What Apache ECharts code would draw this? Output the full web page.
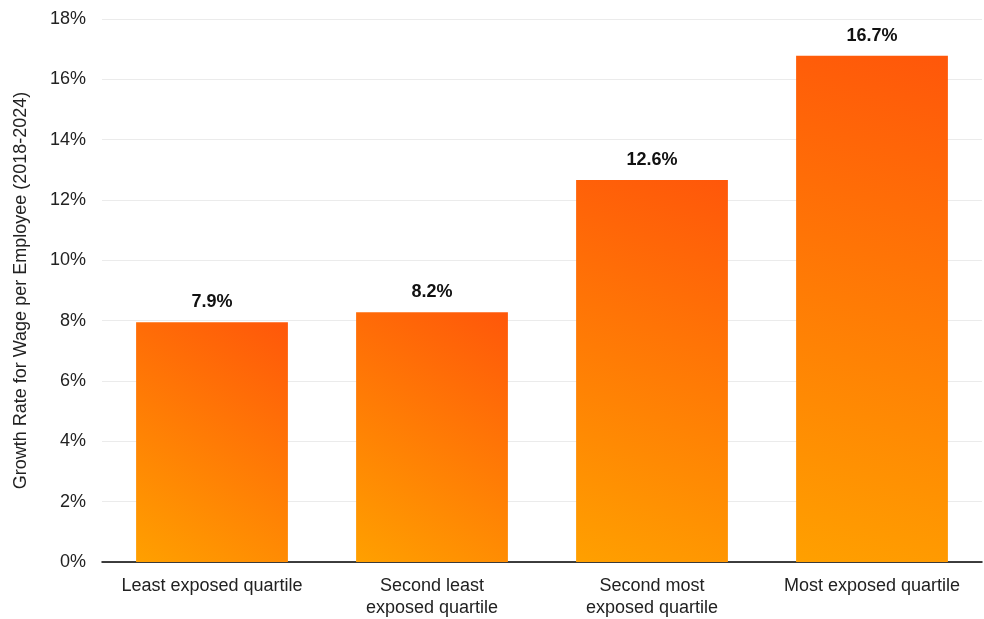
<!DOCTYPE html>
<html><head><meta charset="utf-8">
<script src="https://cdn.jsdelivr.net/npm/echarts@6/dist/echarts.min.js"></script>
<style>html,body{margin:0;padding:0;background:#fff}#c{width:984px;height:619px}</style>
</head><body><div id="c"></div>
<script>
const categories = ['Least exposed quartile', 'Second least\nexposed quartile', 'Second most\nexposed quartile', 'Most exposed quartile'];
const values = [7.95, 8.28, 12.66, 16.78];
const labels = ['7.9%', '8.2%', '12.6%', '16.7%'];
const yTicks = [0, 2, 4, 6, 8, 10, 12, 14, 16, 18];

const chart = echarts.init(document.getElementById('c'));
const font = '"Liberation Sans", Arial, Helvetica, sans-serif';
chart.setOption({
  animation: false,
  grid: {left: 102, right: 2, top: 19, bottom: 57},
  xAxis: {
    type: 'category', data: categories,
    axisLine: {lineStyle: {color: '#000', width: 1.5}},
    axisTick: {show: false},
    axisLabel: {interval: 0, fontFamily: font, fontSize: 18, color: '#222', lineHeight: 22, margin: 13}
  },
  yAxis: {
    type: 'value', min: 0, max: 18, interval: 2,
    name: 'Growth Rate for Wage per Employee (2018-2024)',
    nameLocation: 'middle', nameGap: 72, nameRotate: 90,
    nameTextStyle: {fontFamily: font, fontSize: 18, color: '#222'},
    axisLine: {show: false}, axisTick: {show: false},
    axisLabel: {fontFamily: font, fontSize: 18, color: '#222', margin: 16,
      formatter: v => yTicks.includes(v) ? v + '%' : ''},
    splitLine: {lineStyle: {color: '#ebebeb', width: 1}}
  },
  series: [{
    type: 'bar', barWidth: '69%',
    data: values.map((v, i) => ({value: v, label: {formatter: labels[i]}})),
    itemStyle: {
      color: new echarts.graphic.LinearGradient(1, 0, 0, 1, [
        {offset: 0, color: '#ff570a'},
        {offset: 1, color: '#ffa000'}
      ])
    },
    label: {show: true, position: 'top', distance: 11, fontFamily: font, fontSize: 18, fontWeight: 'bold', color: '#111'}
  }]
});
</script></body></html>
